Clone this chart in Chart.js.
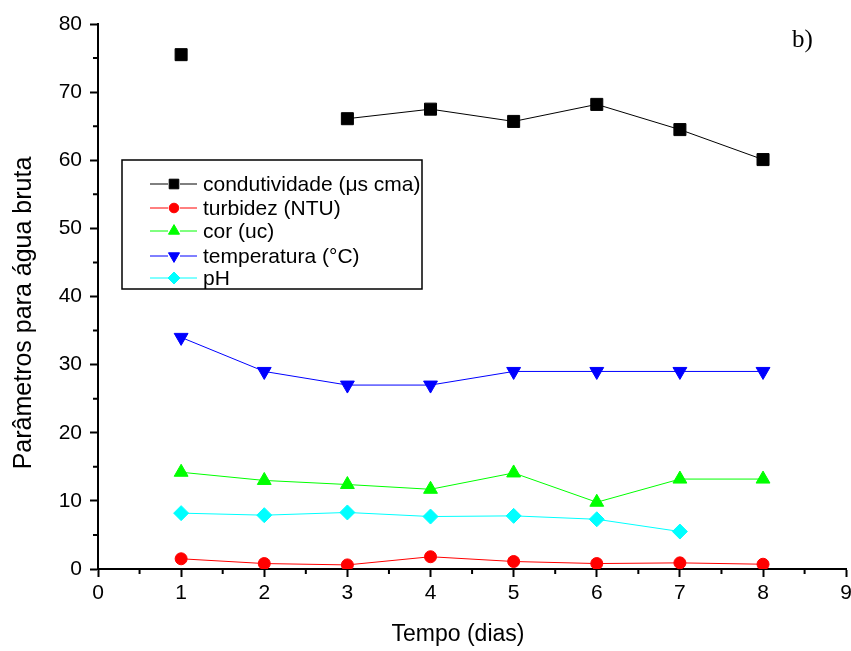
<!DOCTYPE html>
<html>
<head>
<meta charset="utf-8">
<script src="https://cdn.jsdelivr.net/npm/chart.js@4.4.0/dist/chart.umd.min.js"></script>
<style>
html, body { margin: 0; padding: 0; background: #fff; overflow: hidden; }
#wrap { width: 856px; height: 651px; }
</style>
</head>
<body>
<div id="wrap"><canvas id="chartAgua"></canvas></div>
<script>
// dados
var dias = [1, 2, 3, 4, 5, 6, 7, 8];
var condutividade = [75.5, null, 66.1, 67.5, 65.7, 68.2, 64.5, 60.1];
var turbidez = [1.5, 0.8, 0.6, 1.8, 1.1, 0.8, 0.9, 0.7];
var cor = [14.2, 13.0, 12.4, 11.7, 14.1, 9.8, 13.2, 13.2];
var temperatura = [34, 29, 27, 27, 29, 29, 29, 29];
var ph = [8.2, 7.9, 8.3, 7.7, 7.8, 7.3, 5.5];
var nomes = ['condutividade (μs cma)', 'turbidez (NTU)', 'cor (uc)', 'temperatura (°C)', 'pH'];

var fonte = '"Liberation Sans", Arial, sans-serif';

function pontos(vals) {
  return vals.map(function (v, i) { return {x: dias[i], y: v}; });
}

function serie(label, vals, color, style, radius, rotation) {
  return {
    label: label,
    data: pontos(vals),
    borderColor: color,
    backgroundColor: color,
    borderWidth: 1,
    pointStyle: style,
    pointRadius: radius,
    pointRotation: rotation || 0,
    pointBorderWidth: 1,
    pointBorderColor: color,
    pointBackgroundColor: color,
    spanGaps: false,
    tension: 0
  };
}

var datasets = [
  serie(nomes[0], condutividade, '#000000', 'rect', 8.5),
  serie(nomes[1], turbidez, '#ff0000', 'circle', 6),
  serie(nomes[2], cor, '#00ff00', 'triangle', 8),
  serie(nomes[3], temperatura, '#0000ff', 'triangle', 8, 180),
  serie(nomes[4], ph, '#00ffff', 'rectRot', 7.5)
];

function marcador(ctx, ds, x, y) {
  ctx.fillStyle = ds.pointBackgroundColor;
  ctx.strokeStyle = ds.pointBorderColor;
  ctx.lineWidth = 1;
  Chart.helpers.drawPoint(ctx, {
    pointStyle: ds.pointStyle, rotation: ds.pointRotation,
    radius: ds.pointRadius * 0.8, borderWidth: 1
  }, x, y);
}

// legenda dentro do grafico, ticks menores, titulos dos eixos e "b)"
var extras = {
  id: 'extras',
  afterDraw: function (chart) {
    var ctx = chart.ctx;
    var a = chart.chartArea;
    var xs = chart.scales.x, ys = chart.scales.y;
    ctx.save();
    // ticks menores
    ctx.strokeStyle = '#000';
    ctx.lineWidth = 2;
    ctx.beginPath();
    for (var i = 0.5; i < 9; i += 1) {
      var px = xs.getPixelForValue(i);
      ctx.moveTo(px, a.bottom);
      ctx.lineTo(px, a.bottom + 5);
    }
    for (var j = 5; j < 80; j += 10) {
      var py = ys.getPixelForValue(j);
      ctx.moveTo(a.left, py);
      ctx.lineTo(a.left - 5, py);
    }
    ctx.stroke();

    // caixa da legenda
    var bx = a.left + 24, by = a.top + 136, bw = 300, bh = 129;
    ctx.lineWidth = 1.5;
    ctx.strokeRect(bx, by, bw, bh);
    ctx.font = '21px ' + fonte;
    ctx.textBaseline = 'middle';
    ctx.textAlign = 'left';
    var rows = [184, 208, 231, 256, 278];
    chart.data.datasets.forEach(function (ds, k) {
      var ry = rows[k];
      ctx.strokeStyle = ds.borderColor;
      ctx.lineWidth = 1;
      ctx.beginPath();
      ctx.moveTo(bx + 28, ry); ctx.lineTo(bx + 46, ry);
      ctx.moveTo(bx + 58, ry); ctx.lineTo(bx + 75, ry);
      ctx.stroke();
      marcador(ctx, ds, bx + 52, ry);
      ctx.fillStyle = '#000';
      ctx.fillText(ds.label, bx + 81, ry + 1);
    });

    // titulos dos eixos
    ctx.fillStyle = '#000';
    ctx.font = '23px ' + fonte;
    ctx.textAlign = 'center';
    ctx.fillText('Tempo (dias)', 458, 635);
    ctx.save();
    ctx.translate(24, 313);
    ctx.rotate(-Math.PI / 2);
    ctx.font = '25px ' + fonte;
    ctx.fillText('Parâmetros para água bruta', 0, 0);
    ctx.restore();

    ctx.font = '25px "Liberation Serif", "Times New Roman", serif';
    ctx.textAlign = 'left';
    ctx.textBaseline = 'alphabetic';
    ctx.fillText('b)', 792, 47);
    ctx.restore();
  }
};

var ctx1 = document.getElementById('chartAgua').getContext('2d');
var chart1 = new Chart(ctx1, {
  type: 'line',
  data: { datasets: datasets },
  options: {
    responsive: true,
    maintainAspectRatio: false,
    animation: false,
    layout: { padding: { top: 24, right: 0, left: 0, bottom: 0 } },
    plugins: { legend: { display: false }, tooltip: { enabled: false } },
    scales: {
      x: {
        type: 'linear',
        min: 0, max: 9,
        afterFit: function (s) { s.height = 82; },
        ticks: { stepSize: 1, color: '#000', padding: 4,
          font: { family: fonte, size: 21 } },
        grid: { drawOnChartArea: false, drawTicks: true, tickLength: 8, tickWidth: 2, tickColor: '#000' },
        border: { display: true, color: '#000', width: 2 }
      },
      y: {
        type: 'linear',
        min: 0, max: 80,
        afterFit: function (s) { s.width = 98; },
        ticks: { stepSize: 10, color: '#000', padding: 8,
          font: { family: fonte, size: 21 } },
        grid: { drawOnChartArea: false, drawTicks: true, tickLength: 8, tickWidth: 2, tickColor: '#000' },
        border: { display: true, color: '#000', width: 2 }
      }
    }
  },
  plugins: [extras]
});
</script>
</body>
</html>
